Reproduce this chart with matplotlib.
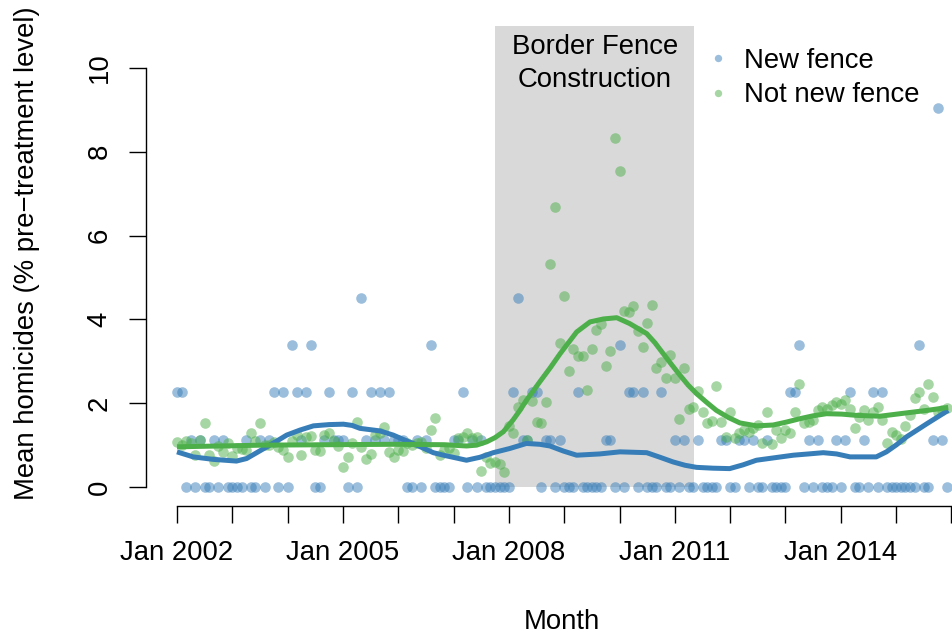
import matplotlib
matplotlib.use("Agg")
import matplotlib.pyplot as plt
from matplotlib.patches import Rectangle
import numpy as np

plt.rcParams['font.family'] = ['Liberation Sans', 'DejaVu Sans']

# Month index: 0 = Jan 2002 ... 167 = Dec 2015
months = np.arange(168)

new_fence = [
    2.26, 2.26, 0, 1.13, 0, 1.13, 0, 0, 1.13, 0, 1.13, 0,
    0, 0, 0, 1.13, 0, 0, 1.13, 0, 1.13, 2.26, 0, 2.26,
    0, 3.39, 2.26, 1.13, 2.26, 3.39, 0, 0, 1.13, 2.26, 1.13, 1.13,
    1.13, 0, 2.26, 0, 4.52, 1.13, 2.26, 1.13, 2.26, 1.13, 2.26, 1.13,
    1.13, 1.13, 0, 0, 1.13, 0, 1.13, 3.39, 0, 0, 0, 0,
    1.13, 1.13, 2.26, 0, 1.13, 0, 1.13, 0, 0, 0, 0, 0,
    0, 2.26, 4.52, 1.13, 1.13, 2.26, 2.26, 0, 1.13, 1.13, 0, 1.13,
    0, 0, 0, 2.26, 0, 0, 0, 0, 0, 1.13, 1.13, 0,
    3.39, 0, 2.26, 2.26, 0, 2.26, 0, 0, 0, 2.26, 0, 0,
    1.13, 0, 1.13, 0, 0, 1.13, 0, 0, 0, 0, 1.13, 1.13,
    0, 0, 1.13, 1.13, 0, 1.13, 0, 0, 1.13, 0, 0, 0,
    0, 2.26, 2.26, 3.39, 0, 1.13, 0, 1.13, 0, 0, 0, 1.13,
    0, 1.13, 2.26, 0, 0, 1.13, 0, 2.26, 0, 2.26, 0, 0,
    0, 0, 0, 0, 0, 3.39, 0, 0, 1.13, 9.04, 1.13, 0,
]

not_new_fence = [
    1.08, 1.00, 1.10, 1.04, 0.76, 1.12, 1.52, 0.77, 0.62, 0.98, 0.84, 1.04,
    0.75, 0.92, 0.90, 0.88, 1.28, 1.10, 1.52, 1.00, 1.00, 1.08, 0.96, 0.88,
    0.71, 1.10, 1.24, 0.76, 1.20, 1.21, 0.88, 0.87, 1.24, 1.29, 1.10, 0.98,
    0.47, 0.71, 1.04, 1.56, 0.96, 0.67, 0.80, 1.24, 1.29, 1.44, 0.84, 0.71,
    0.88, 0.87, 1.04, 1.00, 1.05, 1.08, 0.92, 1.36, 1.64, 0.76, 0.88, 0.92,
    0.82, 1.16, 1.20, 1.29, 1.16, 1.20, 0.38, 0.72, 0.58, 0.60, 0.55, 0.36,
    1.45, 1.30, 1.91, 2.07, 1.12, 2.05, 1.56, 1.53, 2.03, 5.31, 6.69, 3.44,
    4.55, 2.77, 3.30, 3.12, 3.13, 2.31, 3.30, 3.74, 3.90, 2.88, 3.25, 8.33,
    7.53, 4.21, 4.17, 4.32, 3.72, 3.33, 3.92, 4.35, 2.85, 2.98, 2.60, 3.16,
    2.60, 1.63, 2.83, 1.87, 1.91, 2.29, 1.80, 1.52, 1.58, 2.40, 1.56, 1.20,
    1.78, 1.16, 1.29, 1.36, 1.32, 1.40, 1.48, 1.04, 1.78, 1.02, 1.36, 1.16,
    1.37, 1.28, 1.78, 2.45, 1.53, 1.56, 1.60, 1.83, 1.91, 1.87, 1.95, 2.03,
    1.98, 2.07, 1.87, 1.42, 1.66, 1.83, 1.60, 1.80, 1.90, 1.60, 1.04, 1.32,
    1.24, 1.15, 1.46, 1.71, 2.13, 2.27, 1.87, 2.45, 2.15, 1.79, 1.85, 1.89,
]

# Smoothed trends (month, value)
new_smooth_m = [0, 3.5, 7.9, 12.9, 15.1, 17.3, 19.5, 21.7, 23.8, 26.7, 29.6, 33,
                36.1, 38, 39.7, 44, 46.9, 49, 51.2, 53.4, 55.6, 57.8, 59.9, 62.8,
                65.7, 68.6, 72.2, 75.8, 78.7, 80.9, 83.8, 86.7, 91.7, 96.1, 101.9,
                104.8, 107.6, 110.2, 112.7, 116.3, 119.9, 122.8, 125.7, 129.7,
                133.7, 137, 140.2, 143.1, 146, 151.7, 153.9, 156.1, 158.3, 162.8,
                167.3]
new_smooth_v = [0.84, 0.72, 0.66, 0.62, 0.68, 0.82, 0.96, 1.10, 1.24, 1.36, 1.46,
                1.49, 1.50, 1.47, 1.40, 1.34, 1.24, 1.14, 1.04, 0.93, 0.82, 0.76,
                0.71, 0.64, 0.71, 0.82, 0.92, 1.04, 1.02, 0.98, 0.86, 0.76, 0.79,
                0.84, 0.82, 0.71, 0.60, 0.52, 0.47, 0.45, 0.44, 0.53, 0.64, 0.70,
                0.76, 0.79, 0.82, 0.79, 0.72, 0.72, 0.84, 1.01, 1.20, 1.52, 1.83]

old_smooth_m = [0, 18.7, 46.9, 58, 62.8, 65, 67.2, 69, 70.8, 72.9, 74.4, 75.8,
                78.7, 81, 83.1, 86.7, 89.6, 92.5, 95.4, 98.2, 101.9, 103.7,
                105.5, 107.3, 109.1, 110.9, 112.7, 114.9, 117, 119.6, 122.1,
                125.7, 129.3, 132.2, 135.1, 138, 140.9, 144.2, 147.4, 152.5,
                158.3, 162.8, 167.3]
old_smooth_v = [0.96, 1.00, 1.02, 1.01, 0.98, 1.00, 1.08, 1.18, 1.32, 1.60, 1.83,
                2.07, 2.51, 2.85, 3.18, 3.70, 3.94, 4.01, 4.04, 3.90, 3.66, 3.44,
                3.18, 2.92, 2.67, 2.43, 2.23, 2.02, 1.83, 1.66, 1.53, 1.46, 1.48,
                1.55, 1.63, 1.70, 1.75, 1.74, 1.71, 1.69, 1.77, 1.83, 1.90]

fence_start, fence_end = 69, 112.2
tick_months = list(range(0, 169, 12))
tick_labels = ["Jan 2002", "", "", "Jan 2005", "", "", "Jan 2008", "", "",
               "Jan 2011", "", "", "Jan 2014", "", ""]
y_ticks = [0, 2, 4, 6, 8, 10]

blue = "#377EB8"
green = "#4DAF4A"
FS = 19.8

W, H = 953, 639
fig = plt.figure(figsize=(W / 100, H / 100), dpi=100)
L, R, T, B = 146, 977.8, 7.5, 505.5
ax = fig.add_axes([L / W, 1 - B / H, (R - L) / W, (B - T) / H])
ax.set_xlim(-6.72, 173.72)
ax.set_ylim(-0.44, 11.44)
ax.patch.set_visible(False)

ax.add_patch(Rectangle((fence_start, 0), fence_end - fence_start, 11,
                       facecolor="#D9D9D9", edgecolor="none", zorder=0))
ax.text((fence_start + fence_end) / 2, 10.33, "Border Fence", ha="center",
        va="baseline", fontsize=FS)
ax.text((fence_start + fence_end) / 2, 9.55, "Construction", ha="center",
        va="baseline", fontsize=FS)

ax.scatter(months, new_fence, s=58, color=blue, alpha=0.5, linewidths=0, zorder=2)
ax.scatter(months, not_new_fence, s=58, color=green, alpha=0.5, linewidths=0, zorder=2)
ax.plot(new_smooth_m, new_smooth_v, color=blue, lw=3.6, solid_joinstyle="round",
        solid_capstyle="butt", zorder=3)
ax.plot(old_smooth_m, old_smooth_v, color=green, lw=3.6, solid_joinstyle="round",
        solid_capstyle="butt", zorder=3)

# legend
ax.scatter([117.3], [10.24], s=28, color=blue, alpha=0.5, linewidths=0, clip_on=False)
ax.scatter([117.3], [9.39], s=28, color=green, alpha=0.5, linewidths=0, clip_on=False)
ax.text(123.0, (487 - 66.7) / 42, "New fence", ha="left", va="baseline", fontsize=FS)
ax.text(123.0, (487 - 101.7) / 42, "Not new fence", ha="left", va="baseline", fontsize=FS)

for s in ["top", "right"]:
    ax.spines[s].set_visible(False)
ax.spines["left"].set_bounds(0, 10)
ax.spines["bottom"].set_bounds(0, 168)
for s in ["left", "bottom"]:
    ax.spines[s].set_linewidth(1.0)

ax.set_xticks(tick_months)
ax.set_xticklabels(tick_labels, fontsize=FS)
ax.set_yticks(y_ticks)
ax.set_yticklabels([str(v) for v in y_ticks], fontsize=FS, rotation=90, va="center")
ax.tick_params(axis="both", length=12.2, width=1.0, direction="out")
ax.tick_params(axis="x", pad=13)
ax.tick_params(axis="y", pad=12)

fig.text(562 / W, 1 - 622 / H, "Month", ha="center", va="center", fontsize=FS)
fig.text(27 / W, 1 - 253.5 / H, "Mean homicides (% pre\u2212treatment level)",
         ha="center", va="center", rotation=90, fontsize=FS)

fig.savefig("out.png", dpi=100)
